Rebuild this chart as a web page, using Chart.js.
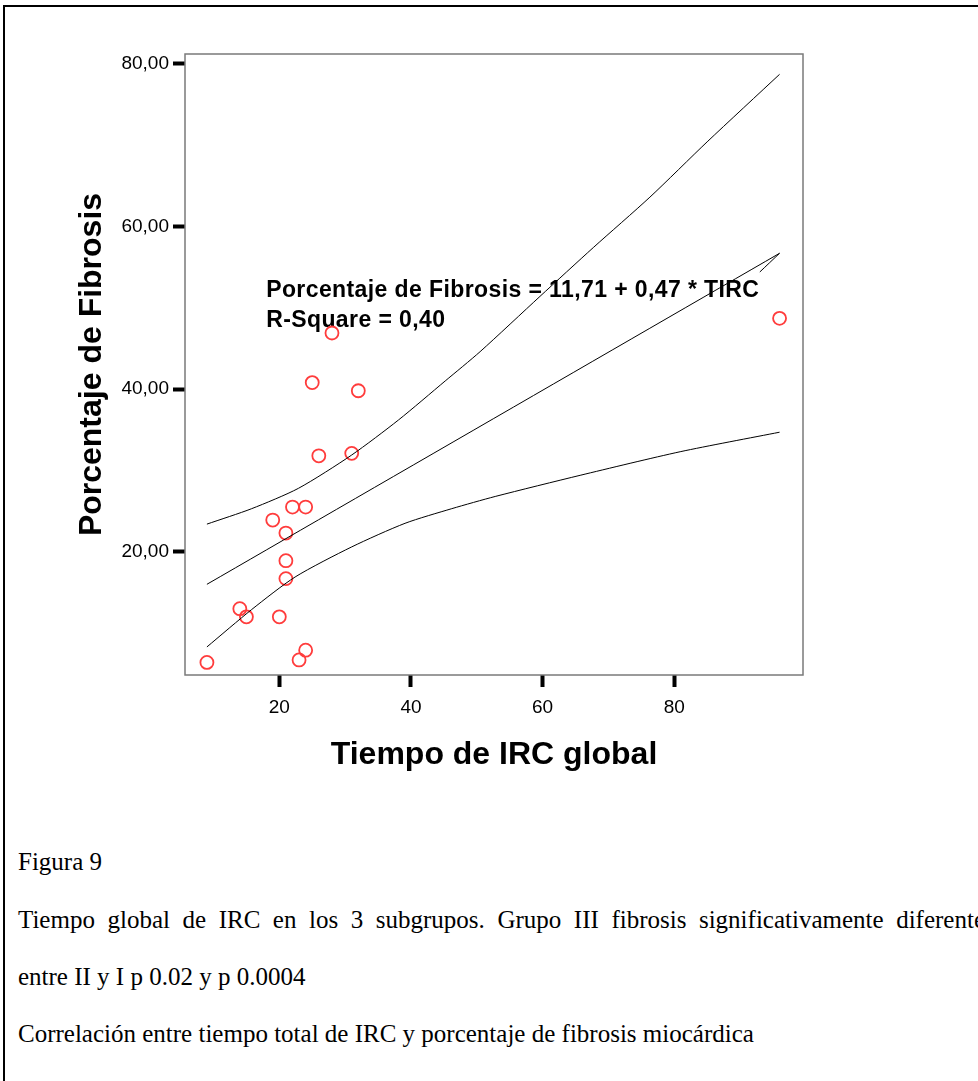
<!DOCTYPE html>
<html>
<head>
<meta charset="utf-8">
<script src="https://cdn.jsdelivr.net/npm/chart.js@4.4.1/dist/chart.umd.min.js"></script>
<style>
  html, body { margin: 0; padding: 0; background: #fff; width: 978px; height: 1081px; overflow: hidden; }
  #marco { position: absolute; left: 3px; top: 5px; width: 1000px; height: 1100px; border-left: 2px solid #000; border-top: 2px solid #000; }
  #grafico { position: absolute; left: 0; top: 0; }
  .pie { position: absolute; left: 18px; font-family: "Liberation Serif", "Times New Roman", serif; font-size: 25px; line-height: 30px; color: #000; white-space: nowrap; }
  #l2 { width: 967px; white-space: normal; text-align: justify; text-align-last: justify; }
</style>
</head>
<body>
<div id="marco"></div>
<canvas id="grafico" width="978" height="790"></canvas>
<div class="pie" style="top:847px">Figura 9</div>
<div class="pie" id="l2" style="top:905px">Tiempo global de IRC en los 3 subgrupos. Grupo III fibrosis significativamente diferente</div>
<div class="pie" style="top:962px">entre II y I p 0.02 y p 0.0004</div>
<div class="pie" style="top:1019px">Correlación entre tiempo total de IRC y porcentaje de fibrosis miocárdica</div>

<script>
// casos (tiempo de IRC, % fibrosis)
const tiempoIRC = [9, 14, 15, 20, 23, 24, 21, 21, 21, 19, 22, 24, 28, 25, 32, 26, 31, 96];
const fibrosis = [6.4, 13.0, 12.0, 12.0, 6.7, 7.9, 16.7, 18.9, 22.3, 23.9, 25.5, 25.5, 46.9, 40.8, 39.8, 31.8, 32.1, 48.7];

// recta de regresion y bandas
const rectaX = [9.0, 96.0];
const rectaY = [16.0, 56.7];
const trazoX = [93.0, 96.0];
const trazoY = [54.4, 56.7];
const superiorX = [9.0, 15.8, 22.9, 31.0, 38.1, 45.2, 50.5, 59.6, 67.7, 76.3, 85.0, 96.0];
const superiorY = [23.4, 25.3, 27.8, 31.9, 36.2, 41.0, 44.6, 51.4, 57.4, 63.6, 70.4, 78.7];
const inferiorX = [9.0, 15.8, 22.4, 31.0, 39.1, 46.2, 52.8, 65.7, 80.9, 96.0];
const inferiorY = [8.3, 12.9, 16.9, 20.6, 23.5, 25.3, 26.8, 29.4, 32.3, 34.7];

const xTicks = [20, 40, 60, 80];
const yTicks = [20, 40, 60, 80];

const notaLineas = ['Porcentaje de Fibrosis = 11,71 + 0,47 * TIRC', 'R-Square = 0,40'];
const notaX = 18;
const notaY = [51.3, 47.6];

const fuente = '"Liberation Sans", Arial, sans-serif';
const pares = (xs, ys) => xs.map((x, i) => ({ x: x, y: ys[i] }));

const linea = (label, xs, ys) => ({
    label: label,
    data: pares(xs, ys),
    showLine: true,
    borderColor: '#000',
    borderWidth: 1,
    pointRadius: 0,
    fill: false,
    tension: 0.25
});

// marco del area y texto de la ecuacion
const notaPlugin = {
    id: 'nota',
    beforeDatasetsDraw(chart) {
        const { ctx, chartArea: a, scales: { x, y } } = chart;
        ctx.save();
        ctx.strokeStyle = '#7a7a7a';
        ctx.lineWidth = 1.5;
        ctx.strokeRect(a.left, a.top, a.right - a.left, a.bottom - a.top);
        ctx.fillStyle = '#000';
        ctx.font = 'bold 23px ' + fuente;
        ctx.letterSpacing = '0.4px';
        ctx.textBaseline = 'alphabetic';
        notaLineas.forEach((t, i) => ctx.fillText(t, x.getPixelForValue(notaX), y.getPixelForValue(notaY[i])));
        ctx.restore();
    }
};

const ctx = document.getElementById('grafico').getContext('2d');
new Chart(ctx, {
    type: 'scatter',
    data: {
        datasets: [
            linea('Superior', superiorX, superiorY),
            linea('Recta', rectaX, rectaY),
            linea('Trazo', trazoX, trazoY),
            linea('Inferior', inferiorX, inferiorY),
            {
                label: 'Casos',
                data: pares(tiempoIRC, fibrosis),
                pointStyle: 'circle',
                pointRadius: 6.5,
                borderColor: '#ff3c3c',
                borderWidth: 1.8,
                backgroundColor: 'rgba(0,0,0,0)'
            }
        ]
    },
    options: {
        responsive: false,
        animation: false,
        layout: { padding: { left: 0, top: 54, right: 175, bottom: 15 } },
        plugins: { legend: { display: false }, tooltip: { enabled: false } },
        scales: {
            x: {
                type: 'linear',
                min: 5.67,
                max: 99.56,
                afterFit: s => { s.height = 100; },
                afterBuildTicks: s => { s.ticks = xTicks.map(v => ({ value: v })); },
                grid: { drawOnChartArea: false, drawTicks: true, tickLength: 12, tickWidth: 4, tickColor: '#000' },
                border: { display: false },
                ticks: { color: '#000', font: { family: fuente, size: 19 }, padding: 9 },
                title: { display: true, text: 'Tiempo de IRC global', color: '#000',
                         font: { family: fuente, size: 32, weight: 'bold', lineHeight: 1 }, padding: { top: 0, bottom: 4 } }
            },
            y: {
                type: 'linear',
                min: 4.85,
                max: 81.2,
                afterFit: s => { s.width = 185; },
                afterBuildTicks: s => { s.ticks = yTicks.map(v => ({ value: v })); },
                grid: { drawOnChartArea: false, drawTicks: true, tickLength: 12, tickWidth: 4, tickColor: '#000' },
                border: { display: false },
                ticks: { color: '#000', font: { family: fuente, size: 19 }, padding: 4,
                         callback: v => v.toFixed(2).replace('.', ',') },
                title: { display: true, text: 'Porcentaje de Fibrosis', color: '#000',
                         font: { family: fuente, size: 32, weight: 'bold', lineHeight: 1 }, padding: { top: 76, bottom: 0 } }
            }
        }
    },
    plugins: [notaPlugin]
});
</script>
</body>
</html>
